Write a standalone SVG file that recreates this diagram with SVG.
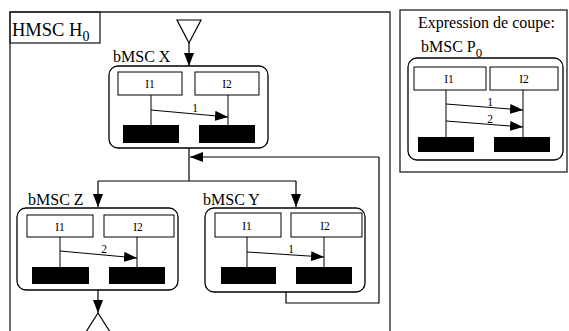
<svg xmlns="http://www.w3.org/2000/svg" width="569" height="331" viewBox="0 0 569 331">
<style>
text{font-family:"Liberation Serif","Times New Roman",serif;fill:#000}
.t16{font-size:16px}
.t11{font-size:11.5px}
.frame{fill:none;stroke:#222;stroke-width:1.3}
.bm{fill:#fff;stroke:#000;stroke-width:1.3}
.inst{fill:#fff;stroke:#000;stroke-width:1}
.end{fill:#000}
.ln{fill:none;stroke:#000;stroke-width:1}
.cn{fill:none;stroke:#000;stroke-width:1.2}
.msg{fill:none;stroke:#000;stroke-width:1;marker-end:url(#ah)}
.cnA{fill:none;stroke:#000;stroke-width:1.2;marker-end:url(#ah2)}
</style>
<defs>
<marker id="ah" markerWidth="14" markerHeight="10" refX="13" refY="5" orient="auto" markerUnits="userSpaceOnUse"><path d="M0,0 L13,5 L0,10 Z" fill="#000"/></marker>
<marker id="ah2" markerWidth="14" markerHeight="10" refX="13" refY="5" orient="auto" markerUnits="userSpaceOnUse"><path d="M0,0 L13,5 L0,10 Z" fill="#000"/></marker>
</defs>
<rect width="569" height="331" fill="#fff"/>

<g id="hmsc-frame">
<path class="frame" d="M10,340 V12 H390 V340"/>
<rect class="frame" x="10" y="12" width="90" height="31"/>
<text x="12" y="36" style="font-size:18.5px">HMSC H<tspan dy="5" style="font-size:14px">0</tspan></text>
</g>

<g id="start">
<path class="cn" d="M177,20 L201,20 L189,43 Z" fill="#fff"/>
</g>

<g id="connectors">
<path class="cnA" d="M189,43 V66"/>
<path class="cn" d="M189,148 V181"/>
<path class="cnA" d="M379,157 H190"/>
<path class="cn" d="M98,181 H296"/>
<path class="cnA" d="M98,181 V207"/>
<path class="cnA" d="M296,181 V207"/>
<path class="cn" d="M286,292 V303 H379 V157"/>
<path class="cnA" d="M98,290 V313"/>
</g>

<g id="end">
<path class="cn" d="M98,313 L84,335 M98,313 L112,335"/>
</g>

<g id="bmsc-x">
<text class="t16" x="113" y="62">bMSC X</text>
<rect class="bm" x="109" y="66" width="159" height="82" rx="9"/>
<rect class="inst" x="118" y="72" width="64" height="23"/>
<rect class="inst" x="195" y="72" width="64" height="23"/>
<text class="t11" x="150" y="88" text-anchor="middle">I1</text>
<text class="t11" x="227" y="88" text-anchor="middle">I2</text>
<path class="ln" d="M151,95 V125 M228,95 V125"/>
<rect class="end" x="123" y="125" width="56" height="18"/>
<rect class="end" x="199" y="125" width="56" height="18"/>
<path class="msg" d="M151,110 L228,117"/>
<text class="t11" x="195" y="112" text-anchor="middle">1</text>
</g>

<g id="bmsc-z">
<text class="t16" x="28" y="205">bMSC Z</text>
<rect class="bm" x="17" y="208" width="161" height="82" rx="9"/>
<rect class="inst" x="27" y="215" width="66" height="22"/>
<rect class="inst" x="104" y="215" width="70" height="22"/>
<text class="t11" x="60" y="231" text-anchor="middle">I1</text>
<text class="t11" x="138" y="231" text-anchor="middle">I2</text>
<path class="ln" d="M60,237 V267 M137,237 V267"/>
<rect class="end" x="32" y="267" width="57" height="17"/>
<rect class="end" x="109" y="267" width="56" height="17"/>
<path class="msg" d="M60,251 L137,258"/>
<text class="t11" x="104" y="253" text-anchor="middle">2</text>
</g>

<g id="bmsc-y">
<text class="t16" x="203" y="205">bMSC Y</text>
<rect class="bm" x="205" y="208" width="160" height="84" rx="9"/>
<rect class="inst" x="215" y="213" width="66" height="24"/>
<rect class="inst" x="291" y="213" width="71" height="24"/>
<text class="t11" x="247" y="230" text-anchor="middle">I1</text>
<text class="t11" x="325" y="230" text-anchor="middle">I2</text>
<path class="ln" d="M247,237 V267 M324,237 V267"/>
<rect class="end" x="221" y="267" width="55" height="17"/>
<rect class="end" x="296" y="267" width="56" height="17"/>
<path class="msg" d="M247,252 L324,257"/>
<text class="t11" x="291" y="253" text-anchor="middle">1</text>
</g>

<g id="coupe">
<rect class="frame" x="400" y="10" width="167" height="162"/>
<text class="t16" x="418" y="28">Expression de coupe:</text>
<text class="t16" x="421" y="52">bMSC P<tspan dy="5" style="font-size:13px">0</tspan></text>
<rect class="bm" x="408" y="58" width="155" height="102" rx="9"/>
<rect class="inst" x="414" y="67" width="72" height="23"/>
<rect class="inst" x="490" y="67" width="68" height="23"/>
<text class="t11" x="449" y="83" text-anchor="middle">I1</text>
<text class="t11" x="524" y="83" text-anchor="middle">I2</text>
<path class="ln" d="M446,90 V137 M523,90 V137"/>
<rect class="end" x="418" y="137" width="56" height="15"/>
<rect class="end" x="494" y="137" width="56" height="15"/>
<path class="msg" d="M446,104 L523,110"/>
<text class="t11" x="490" y="106" text-anchor="middle">1</text>
<path class="msg" d="M446,121 L523,127"/>
<text class="t11" x="490" y="123" text-anchor="middle">2</text>
</g>
</svg>
